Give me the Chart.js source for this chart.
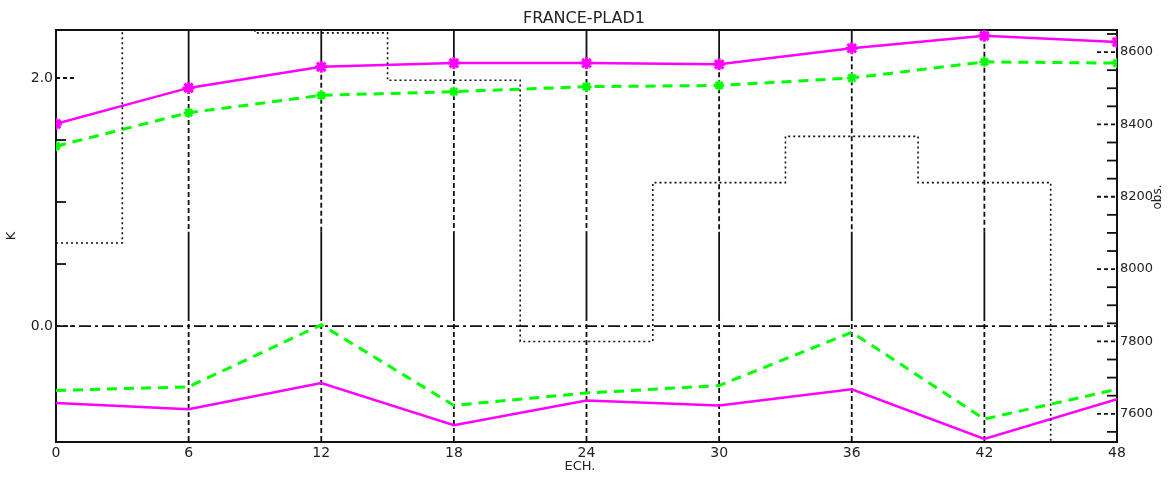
<!DOCTYPE html>
<html>
<head>
<meta charset="utf-8">
<title>FRANCE-PLAD1</title>
<script src="https://cdn.jsdelivr.net/npm/chart.js@4.4.0/dist/chart.umd.min.js"></script>
<style>
    html, body { margin: 0; padding: 0; background: #fff; }
</style>
</head>
<body>
<canvas id="myChart" width="1168" height="477"></canvas>
<script>
// forecast range (ECH.) and the scores
let ech = [0, 6, 12, 18, 24, 30, 36, 42, 48];
let magentaTop = [1.63, 1.92, 2.09, 2.12, 2.12, 2.11, 2.24, 2.34, 2.29];
let greenTop = [1.45, 1.72, 1.86, 1.89, 1.93, 1.94, 2.00, 2.13, 2.12];
let magentaBottom = [-0.62, -0.67, -0.46, -0.80, -0.60, -0.64, -0.51, -0.91, -0.59];
let greenBottom = [-0.52, -0.49, 0.01, -0.64, -0.54, -0.48, -0.05, -0.75, -0.51];
let obsCount = [8072, 8700, 8653, 8522, 7800, 8239, 8367, 8239, 7450];

// tick labels
let xLabels = [0, 6, 12, 18, 24, 30, 36, 42, 48];
let leftLabels = [0, 2];
let leftMinor = [0.5, 1, 1.5];
let rightLabels = [7600, 7800, 8000, 8200, 8400, 8600];
let rightMinor = [7550, 7650, 7700, 7750, 7850, 7900, 7950, 8050, 8100, 8150, 8250, 8300, 8350, 8450, 8500, 8550, 8650];

const FONT = 'DejaVu Sans';
const INK = '#222';

function toPoints(values) {
    return ech.map((e, i) => ({ x: e, y: values[i] }));
}

function line(ctx, x1, y1, x2, y2) {
    ctx.beginPath();
    ctx.moveTo(x1, y1);
    ctx.lineTo(x2, y2);
    ctx.stroke();
}

const framePlugin = {
    id: 'framePlugin',
    beforeDatasetsDraw(chart) {
        let ctx = chart.ctx;
        let a = chart.chartArea;
        let x = chart.scales.x;
        let y = chart.scales.y;
        let y2 = chart.scales.y2;
        ctx.save();
        ctx.strokeStyle = '#111';
        ctx.lineWidth = 1.8;

        // vertical grid: solid / dashed pieces like the original plot
        for (let i = 1; i < ech.length - 1; i++) {
            let px = x.getPixelForValue(ech[i]);
            let cuts = [a.top, y.getPixelForValue(magentaTop[i]), y.getPixelForValue(0.76), y.getPixelForValue(0.08), a.bottom];
            for (let k = 0; k < 4; k++) {
                ctx.setLineDash(k % 2 == 0 ? [] : [5, 3]);
                line(ctx, px, cuts[k], px, cuts[k + 1]);
            }
        }

        // zero line
        let y0 = y.getPixelForValue(0);
        ctx.setLineDash([12, 4, 3, 4]);
        line(ctx, a.left, y0, a.right, y0);

        // inward ticks
        ctx.setLineDash([4, 3]);
        leftLabels.forEach(v => {
            let py = y.getPixelForValue(v);
            line(ctx, a.left, py, a.left + 20, py);
        });
        rightLabels.forEach(v => {
            let py = y2.getPixelForValue(v);
            line(ctx, a.right - 20, py, a.right, py);
        });
        ctx.setLineDash([]);
        leftMinor.forEach(v => {
            let py = y.getPixelForValue(v);
            line(ctx, a.left, py, a.left + 10, py);
        });
        rightMinor.forEach(v => {
            let py = y2.getPixelForValue(v);
            line(ctx, a.right - 10, py, a.right, py);
        });

        // frame
        ctx.lineWidth = 2;
        ctx.strokeRect(a.left, a.top, a.right - a.left, a.bottom - a.top);
        ctx.restore();
    },
    afterDraw(chart) {
        let ctx = chart.ctx;
        let a = chart.chartArea;
        ctx.save();
        ctx.fillStyle = INK;
        ctx.font = `13px "${FONT}"`;
        ctx.textAlign = 'center';
        ctx.textBaseline = 'middle';
        ctx.fillText('ECH.', 580, 467);

        ctx.translate(12, 236);
        ctx.rotate(-Math.PI / 2);
        ctx.fillText('K', 0, 0);
        ctx.restore();

        ctx.save();
        ctx.fillStyle = INK;
        ctx.font = `12px "${FONT}"`;
        ctx.textAlign = 'center';
        ctx.textBaseline = 'middle';
        ctx.translate(a.right + 41, 197);
        ctx.rotate(-Math.PI / 2);
        ctx.fillText('obs.', 0, 0);
        ctx.restore();
    }
};

const ctx = document.getElementById('myChart');
new Chart(ctx, {
    type: 'line',
    data: {
        datasets: [{
            label: 'obs.',
            data: toPoints(obsCount),
            yAxisID: 'y2',
            stepped: 'middle',
            borderColor: '#111',
            borderWidth: 1.6,
            borderDash: [2, 3],
            pointRadius: 0
        }, {
            label: 'green top',
            data: toPoints(greenTop),
            yAxisID: 'y',
            borderColor: '#00ff00',
            borderWidth: 3,
            borderDash: [10, 7],
            pointStyle: 'star',
            pointRadius: 5,
            pointBorderWidth: 2.5,
            pointBorderColor: '#00ff00',
            pointBackgroundColor: '#00ff00'
        }, {
            label: 'green bottom',
            data: toPoints(greenBottom),
            yAxisID: 'y',
            borderColor: '#00ff00',
            borderWidth: 3,
            borderDash: [10, 7],
            pointRadius: 0
        }, {
            label: 'magenta bottom',
            data: toPoints(magentaBottom),
            yAxisID: 'y',
            borderColor: '#ff00ff',
            borderWidth: 2.5,
            pointRadius: 0
        }, {
            label: 'magenta top',
            data: toPoints(magentaTop),
            yAxisID: 'y',
            borderColor: '#ff00ff',
            borderWidth: 2.5,
            pointStyle: 'star',
            pointRadius: 6,
            pointBorderWidth: 3,
            pointBorderColor: '#ff00ff',
            pointBackgroundColor: '#ff00ff'
        }]
    },
    options: {
        responsive: false,
        animation: false,
        layout: { padding: 0 },
        plugins: {
            legend: { display: false },
            tooltip: { enabled: false },
            title: {
                display: true,
                text: 'FRANCE-PLAD1',
                color: INK,
                font: { family: FONT, size: 16, weight: 'normal', lineHeight: 1.2 },
                padding: { top: 9, bottom: 1.8 }
            }
        },
        scales: {
            x: {
                type: 'linear',
                min: 0,
                max: 48,
                grid: { display: false, drawTicks: false },
                border: { display: false },
                ticks: {
                    color: INK,
                    padding: 3,
                    maxRotation: 0,
                    font: { family: FONT, size: 14 },
                    callback: v => String(v)
                },
                afterBuildTicks: s => { s.ticks = xLabels.map(v => ({ value: v })); },
                afterFit: s => { s.height = 35; }
            },
            y: {
                type: 'linear',
                position: 'left',
                min: -0.935,
                max: 2.387,
                grid: { display: false, drawTicks: false },
                border: { display: false },
                ticks: {
                    color: INK,
                    padding: 3,
                    font: { family: FONT, size: 14 },
                    callback: v => v.toFixed(1)
                },
                afterBuildTicks: s => { s.ticks = leftLabels.map(v => ({ value: v })); },
                afterFit: s => { s.width = 56; }
            },
            y2: {
                type: 'linear',
                position: 'right',
                min: 7522,
                max: 8661,
                grid: { display: false, drawTicks: false },
                border: { display: false },
                ticks: {
                    color: INK,
                    padding: 3,
                    font: { family: FONT, size: 13 },
                    callback: v => String(v)
                },
                afterBuildTicks: s => { s.ticks = rightLabels.map(v => ({ value: v })); },
                afterFit: s => { s.width = 51; }
            }
        }
    },
    plugins: [framePlugin]
});
</script>
</body>
</html>
